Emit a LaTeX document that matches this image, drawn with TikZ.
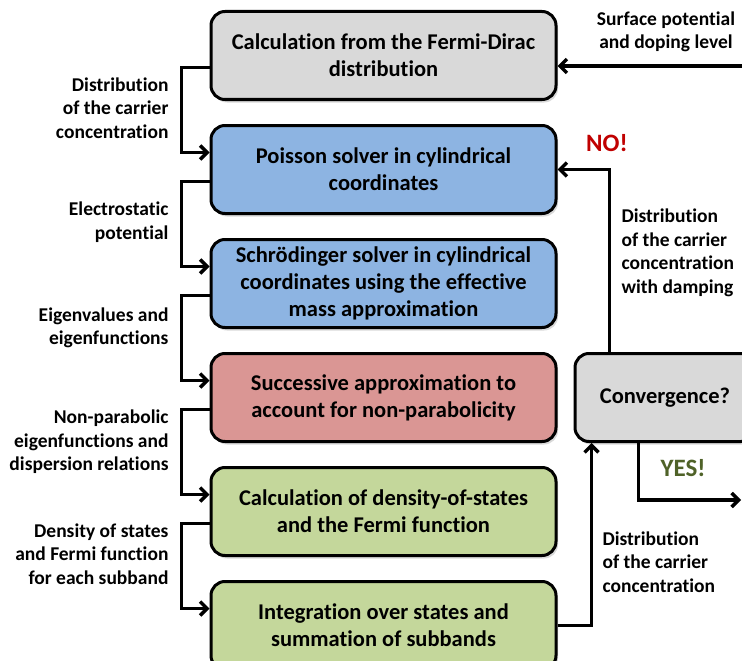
\documentclass[tikz,border=0pt]{standalone}
\usepackage{fontspec}
\setmainfont{Carlito}[Ligatures=CommonOff]
\usetikzlibrary{positioning,arrows.meta,shadows}

\definecolor{boxgray}{HTML}{D9D9D9}
\definecolor{boxblue}{HTML}{8DB4E2}
\definecolor{boxred}{HTML}{DA9694}
\definecolor{boxgreen}{HTML}{C4D79B}
\definecolor{nored}{HTML}{C00000}
\definecolor{yesgreen}{HTML}{4F6228}

\tikzset{
  block/.style={draw, line width=3pt, rounded corners=14pt,
    minimum width=345pt, minimum height=88pt, align=center,
    font=\fontsize{22.5}{27}\selectfont\bfseries,
    drop shadow={shadow xshift=2pt, shadow yshift=-3pt, opacity=0.3}},
  flow/.style={->, line width=3.5pt},
  note/.style={font=\fontsize{19.5}{23.5}\selectfont\bfseries},
  answer/.style={font=\fontsize{25}{28}\selectfont\bfseries},
}

\begin{document}
\begin{tikzpicture}[x=1pt, y=-1pt, node distance=23pt,
    >={Straight Barb[length=7pt,width=14pt]}]
    \clip (0,0) rectangle (742,661);
    % We start by placing the blocks
    \node[block, fill=boxgray] (fd) at (383.5,55.5)
      {Calculation from the Fermi-Dirac\\distribution};
    \node[block, fill=boxblue, below=of fd] (poisson)
      {Poisson solver in cylindrical\\coordinates};
    \node[block, fill=boxblue, below=of poisson] (schroed)
      {Schr\"odinger solver in cylindrical\\coordinates using the effective\\mass approximation};
    \node[block, fill=boxred, below=of schroed] (succ)
      {Successive approximation to\\account for non-parabolicity};
    \node[block, fill=boxgreen, below=of succ] (dos)
      {Calculation of density-of-states\\and the Fermi function};
    \node[block, fill=boxgreen, below=of dos] (subband)
      {Integration over states and\\summation of subbands};
    \node[block, fill=boxgray, minimum width=180pt, right=16pt of succ] (conv)
      {Convergence?};

    \coordinate (in) at (742,66);
    \coordinate (out) at (741,500);

    % Connections down the left side
    \draw[flow] ([yshift=-12pt]fd.west) -- ++(-28pt,0) |- ([yshift=17pt]poisson.west);
    \draw[flow] ([yshift=-12pt]poisson.west) -- ++(-28pt,0) |- ([yshift=17pt]schroed.west);
    \draw[flow] ([yshift=-12pt]schroed.west) -- ++(-28pt,0) |- ([yshift=17pt]succ.west);
    \draw[flow] ([yshift=-12pt]succ.west) -- ++(-28pt,0) |- ([yshift=17pt]dos.west);
    \draw[flow] ([yshift=-12pt]dos.west) -- ++(-28pt,0) |- ([yshift=17pt]subband.west);

    % The loop on the right
    \draw[flow] (in) -- (fd.east |- in);
    \draw[flow] (subband.east) -| ([xshift=18pt]conv.south west);
    \draw[flow] ([xshift=36pt]conv.north west) |- (poisson.east);
    \draw[flow] ([xshift=65pt]conv.south west) |- (out);

    % Labels
    \node[note, anchor=east, align=right] (l1) at (172,108)
      {Distribution\\of the carrier\\concentration};
    \node[note, anchor=east, align=right] (l2) at (172,222)
      {Electrostatic\\potential};
    \node[note, anchor=east, align=right] (l3) at (172,328)
      {Eigenvalues and\\eigenfunctions};
    \node[note, anchor=east, align=right] (l4) at (172,442)
      {Non-parabolic\\eigenfunctions and\\dispersion relations};
    \node[note, anchor=east, align=right] (l5) at (172,554)
      {Density of states\\and Fermi function\\for each subband};
    \node[note, align=center] (l6) at (666,32)
      {Surface potential\\and doping level};
    \node[note, anchor=west, align=left] (l7) at (599,562)
      {Distribution\\of the carrier\\concentration};
    \node[note, anchor=west, align=left] (l8) at (618,253)
      {Distribution\\of the carrier\\concentration\\with damping};
    \node[answer, text=nored] (no) at (607,143) {NO!};
    \node[answer, text=yesgreen] (yes) at (683,468) {YES!};
  \end{tikzpicture}
\end{document}
